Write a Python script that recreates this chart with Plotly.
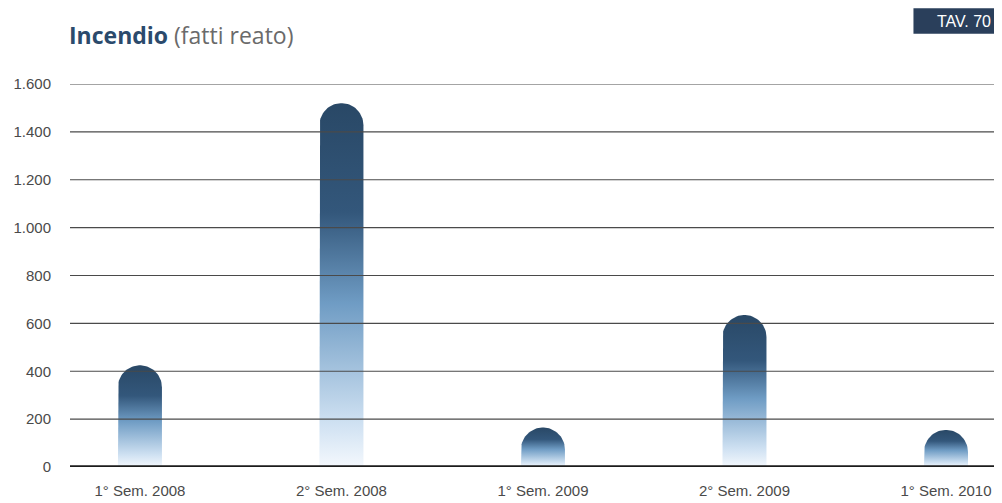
import numpy as np
import plotly.graph_objects as go

# data
categories = ["1° Sem. 2008", "2° Sem. 2008", "1° Sem. 2009", "2° Sem. 2009", "1° Sem. 2010"]
values = [425, 1520, 165, 635, 155]
y_ticks = [0, 200, 400, 600, 800, 1000, 1200, 1400, 1600]
y_labels = ["0", "200", "400", "600", "800", "1.000", "1.200", "1.400", "1.600"]

# layout geometry (page body has an 8px margin)
W, H = 994, 495
ML, MR, MT, MB = 62, 0, 76, 36
plot_w = W - ML - MR
plot_h = H - MT - MB
x_range = [-0.347, 4.278]
y_range = [0, 1600]
px_x = plot_w / (x_range[1] - x_range[0])
px_y = plot_h / (y_range[1] - y_range[0])
bar_px = 44
half_w = bar_px / 2 / px_x
r_y = bar_px / 2 / px_y

dark = "#294866"
scale = [[0, "#f4f8fd"], [0.12, "#cfe1f2"], [0.45, "#6f9cc4"],
         [0.7, "#33577b"], [1, dark]]

fig = go.Figure()

for i, v in enumerate(values):
    # bar outline with rounded top
    top = v - r_y
    t = np.linspace(np.pi, 0, 40)
    xs = [i - half_w] + list(i + half_w * np.cos(t)) + [i + half_w, i - half_w]
    ys = [0] + list(top + r_y * np.sin(t)) + [0, 0]
    fig.add_trace(go.Scatter(
        x=xs, y=ys, mode="lines", fill="toself",
        line=dict(width=0, color=dark),
        fillgradient=dict(type="vertical", colorscale=scale),
        hoverinfo="skip", showlegend=False,
    ))

# gridlines above the bars
for yv in y_ticks[1:]:
    fig.add_shape(type="line", xref="paper", x0=0, x1=1, y0=yv, y1=yv,
                  line=dict(color="#4a4a4a", width=1.2), layer="above")
fig.add_shape(type="line", xref="paper", x0=0, x1=1, y0=0, y1=0,
              line=dict(color="#1c1c1c", width=3.5), layer="above")

# "TAV. 70" badge box
fig.add_shape(type="rect", xref="paper", yref="paper", x0=0.905, x1=1.0, y0=1.131, y1=1.198,
              fillcolor="#2a3f5b", line=dict(width=0))

fig.update_layout(
    width=W, height=H,
    margin=dict(l=ML, r=MR, t=MT, b=MB),
    paper_bgcolor="white", plot_bgcolor="white",
    font=dict(family="Liberation Sans, Arial, sans-serif", size=15, color="#4a4a4a"),
    xaxis=dict(range=x_range, tickmode="array", tickvals=list(range(len(categories))),
               ticktext=categories, showgrid=False, zeroline=False, showline=False,
               ticks="", ticklabelstandoff=13, fixedrange=True),
    yaxis=dict(range=y_range, tickmode="array", tickvals=y_ticks, ticktext=y_labels,
               showgrid=False, zeroline=False, showline=False, ticks="",
               ticklabelstandoff=18, fixedrange=True),
)

fig.add_annotation(
    xref="paper", yref="paper", x=-0.003, y=1.128, xanchor="left", yanchor="middle",
    text="<b><span style='color:#2b4a6c'>Incendio</span></b> <span style='color:#6a6a6a'>(fatti reato)</span>",
    showarrow=False, font=dict(family="Open Sans, sans-serif", size=23),
)
fig.add_annotation(
    xref="paper", yref="paper", x=0.99, y=1.164, xanchor="right", yanchor="middle",
    text="TAV. 70", showarrow=False,
    font=dict(family="Liberation Sans, Arial, sans-serif", size=16, color="white"),
)

fig.write_html("out.html")
